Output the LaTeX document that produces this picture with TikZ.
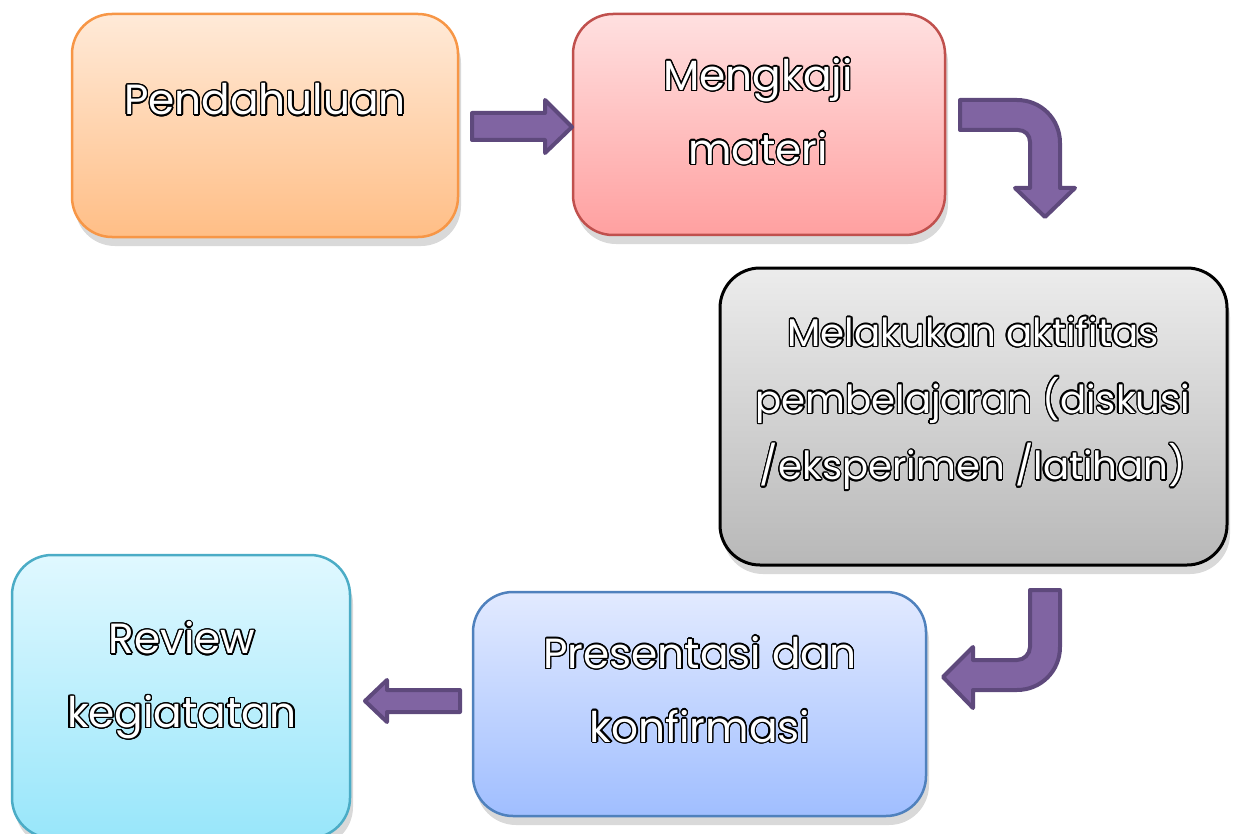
\documentclass[tikz,border=0pt]{standalone}
\usepackage{fontspec}
\setmainfont{Poppins}
\usepackage[copies]{contour}
\usetikzlibrary{shadows}
\contourlength{0.75pt}
\contournumber{20}

\definecolor{oranyeA}{RGB}{255,234,216}
\definecolor{oranyeB}{RGB}{255,190,134}
\definecolor{oranyeG}{RGB}{247,150,70}
\definecolor{merahA}{RGB}{255,224,224}
\definecolor{merahB}{RGB}{255,160,160}
\definecolor{merahG}{RGB}{192,80,77}
\definecolor{abuA}{RGB}{236,236,236}
\definecolor{abuB}{RGB}{184,184,184}
\definecolor{biruA}{RGB}{226,234,255}
\definecolor{biruB}{RGB}{160,190,255}
\definecolor{biruG}{RGB}{79,129,189}
\definecolor{tosqA}{RGB}{224,248,255}
\definecolor{tosqB}{RGB}{152,230,250}
\definecolor{tosqG}{RGB}{75,172,198}
\definecolor{unguA}{RGB}{128,100,162}
\definecolor{unguG}{RGB}{94,73,124}

\newcommand{\tulis}[1]{\textcolor{white}{\contour{black}{#1}}}

\tikzset{
	kotak/.style={line width=0.5mm, rounded corners=8mm,
		drop shadow={opacity=0.3, shadow xshift=0.6mm, shadow yshift=-1.8mm}},
	teks/.style={align=center, font=\fontsize{24}{42}\selectfont},
	teksk/.style={align=center, font=\fontsize{22}{38}\selectfont},
	panah/.style={fill=unguA, draw=unguG, line width=0.8mm, line join=round}
}

\begin{document}
\begin{tikzpicture}[x=0.2mm, y=-0.2mm]
		%%%%% START %%%%%
		\useasboundingbox (0,0) rectangle (1235,834);
		
		% kotak-kotak
		\draw[kotak, top color=oranyeA, bottom color=oranyeB, draw=oranyeG] (72,14) rectangle (458,237);
		\draw[kotak, top color=merahA, bottom color=merahB, draw=merahG] (573,14) rectangle (945,235);
		\draw[kotak, top color=abuA, bottom color=abuB, draw=black, line width=0.6mm] (720,268) rectangle (1227,565);
		\draw[kotak, top color=biruA, bottom color=biruB, draw=biruG] (473,592) rectangle (926,816);
		\draw[kotak, top color=tosqA, bottom color=tosqB, draw=tosqG] (12,555) rectangle (350,838);
		
		% tulisan
		\node[teks] (pendahuluan) at (265,100) {\tulis{Pendahuluan}};
		\node[teks] (mengkaji) at (758,112) {\tulis{Mengkaji}\\\tulis{materi}};
		\node[teksk] (aktifitas) at (973,404) {\tulis{Melakukan aktifitas}\\\tulis{pembelajaran (diskusi}\\\tulis{/eksperimen /latihan)}};
		\node[teks] (presentasi) at (700,690) {\tulis{Presentasi dan}\\\tulis{konfirmasi}};
		\node[teks] (review) at (182,681) {\tulis{Review}\\\tulis{kegiatatan}};
		
		% panah
		\draw[panah] (472,113) -- (545,113) -- (545,100) -- (572,127) -- (545,153) -- (545,140) -- (472,140) -- cycle;
		\draw[panah] (960,100) -- (1017,100) .. controls (1041,100) and (1060,119) .. (1060,143) -- (1060,188) -- (1075,188) -- (1045,217) -- (1015,188) -- (1030,188) -- (1030,142) .. controls (1030,135) and (1025,130) .. (1018,130) -- (960,130) -- cycle;
		\draw[panah] (1030,590) -- (1060,590) -- (1060,647) .. controls (1060,671) and (1041,690) .. (1017,690) -- (973,690) -- (973,708) -- (943,677) -- (973,647) -- (973,660) -- (1017,660) .. controls (1024,660) and (1030,654) .. (1030,647) -- cycle;
		\draw[panah] (460,690) -- (387,690) -- (387,680) -- (365,701) -- (387,722) -- (387,712) -- (460,712) -- cycle;
		
		%%%%% END %%%%%
\end{tikzpicture}
\end{document}
